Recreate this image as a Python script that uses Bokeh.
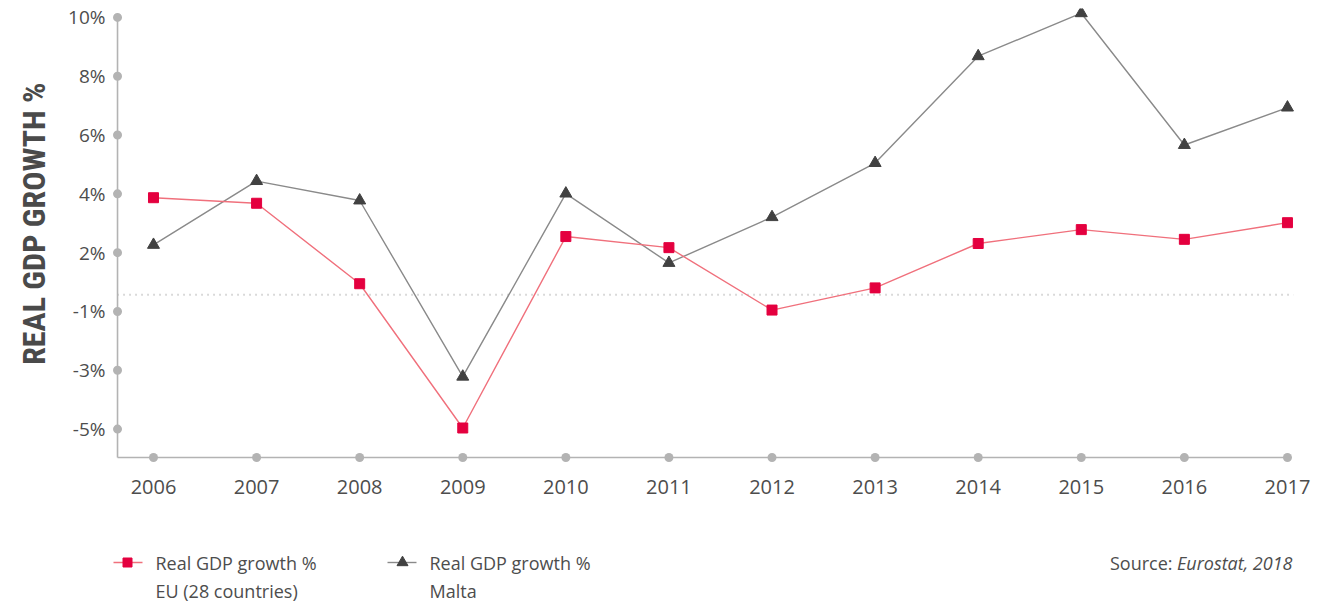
from bokeh.plotting import figure
from bokeh.models import Range1d, FixedTicker, Title
from bokeh.layouts import column
from bokeh.core.properties import value
from bokeh.embed import file_html
from bokeh.resources import INLINE

# ---- data ----
years = [2006, 2007, 2008, 2009, 2010, 2011, 2012, 2013, 2014, 2015, 2016, 2017]
eu_growth = [3.5, 3.3, 0.4, -4.8, 2.1, 1.7, -0.55, 0.25, 1.85, 2.35, 2.0, 2.6]
malta_growth = [1.8, 4.1, 3.4, -2.95, 3.65, 1.15, 2.8, 4.75, 8.6, 10.15, 5.4, 6.75]
y_ticks = [10.0, 7.88, 5.76, 3.64, 1.52, -0.6, -2.72, -4.84]
y_tick_labels = ["10%", "8%", "6%", "4%", "2%", "-1%", "-3%", "-5%"]
series_names = ["EU (28 countries)", "Malta"]
legend_title = "Real GDP growth %"
y_title = "REAL GDP GROWTH %"
source_label = "Source:"
source_text = "Eurostat, 2018"

FONT = "Open Sans"
TXT = "#4d4d4d"
AXIS_GREY = "#b3b3b3"
EU_LINE = "#f0707c"
EU_MARK = "#e4003f"
MT_LINE = "#8a8a8a"
MT_MARK = "#414141"

axis_x = 2005.651
axis_y = -5.862
x_start = 2005.5926
x_end = 2017.078

LEFT = 111
RIGHT = 25
FRAME_W = 1184
TOP = 8
FRAME_H = 455
BOTTOM = 42

p = figure(width=LEFT + FRAME_W + RIGHT, height=TOP + FRAME_H + BOTTOM, output_backend="svg",
           toolbar_location=None,
           x_range=Range1d(x_start, x_end), y_range=Range1d(-6.08, 10.32),
           min_border_left=LEFT, min_border_right=RIGHT, min_border_top=TOP, min_border_bottom=BOTTOM)
p.frame_width = FRAME_W
p.frame_height = FRAME_H
p.outline_line_color = None
p.grid.visible = False

p.yaxis.ticker = FixedTicker(ticks=y_ticks)
p.yaxis.major_label_overrides = {t: l for t, l in zip(y_ticks, y_tick_labels)}
p.yaxis.axis_line_color = None
p.yaxis.major_tick_line_color = None
p.yaxis.minor_tick_line_color = None
p.yaxis.major_label_standoff = 0
p.yaxis.major_label_text_font = FONT
p.yaxis.major_label_text_font_size = "19px"
p.yaxis.major_label_text_color = TXT

# vertical title on the left, outside the axis
ytitle = Title(text=y_title, align="right", offset=74, vertical_align="top", standoff=22,
               text_font="Roboto Condensed", text_font_style="bold",
               text_font_size="32px", text_color="#4a4a4a")
p.add_layout(ytitle, "left")

p.xaxis.ticker = FixedTicker(ticks=years)
p.xaxis.axis_line_color = None
p.xaxis.major_tick_line_color = None
p.xaxis.minor_tick_line_color = None
p.xaxis.major_label_standoff = 10
p.xaxis.major_label_text_font = FONT
p.xaxis.major_label_text_font_size = "20px"
p.xaxis.major_label_text_color = TXT

# axis lines and dots
p.segment(x0=[axis_x, axis_x], y0=[axis_y, axis_y], x1=[axis_x, years[-1]], y1=[y_ticks[0], axis_y],
          line_color=AXIS_GREY, line_width=1.6)
p.scatter(x=[axis_x] * len(y_ticks), y=y_ticks, size=9, marker="circle",
          fill_color=AXIS_GREY, line_color=None)
p.scatter(x=years, y=[axis_y] * len(years), size=9, marker="circle",
          fill_color=AXIS_GREY, line_color=None)

# zero line
p.line(x=[axis_x, 2017.06], y=[0, 0], line_color="#b5b5b5", line_width=2, line_dash="1 5")

# series
p.line(years, malta_growth, line_color=MT_LINE, line_width=1.4)
p.scatter(years, malta_growth, marker="triangle", size=12, fill_color=MT_MARK, line_color=MT_MARK)
p.line(years, eu_growth, line_color=EU_LINE, line_width=1.4)
p.scatter(years, eu_growth, marker="square", size=10, fill_color=EU_MARK, line_color=EU_MARK)

# ---- legend / source strip (same frame geometry, data units = page pixels) ----
Q_H = 603 - (TOP + FRAME_H + BOTTOM)
q = figure(width=LEFT + FRAME_W + RIGHT, height=Q_H, output_backend="svg",
           toolbar_location=None,
           x_range=Range1d(LEFT, LEFT + FRAME_W), y_range=Range1d(603, TOP + FRAME_H + BOTTOM),
           min_border_left=LEFT, min_border_right=RIGHT, min_border_top=0, min_border_bottom=0,
           outline_line_color=None)
q.frame_width = FRAME_W
q.frame_height = Q_H
q.axis.visible = False
q.grid.visible = False

row1 = 562
row2 = 590
q.line([113, 142], [row1, row1], line_color=EU_LINE, line_width=1.4)
q.scatter([127], [row1], marker="square", size=9, fill_color=EU_MARK, line_color=EU_MARK)
q.line([387, 416], [row1, row1], line_color=MT_LINE, line_width=1.4)
q.scatter([402], [row1], marker="triangle", size=11, fill_color=MT_MARK, line_color=MT_MARK)

q.text(x=[155, 429], y=[row1, row1], text=[legend_title, legend_title],
       text_font=value(FONT), text_font_size="18px", text_color=TXT, text_baseline="middle")
q.text(x=[155, 429], y=[row2, row2], text=series_names,
       text_font=value(FONT), text_font_size="18px", text_color=TXT, text_baseline="middle")
q.text(x=[1292], y=[row1], text=[source_text], text_font=value(FONT), text_font_size="18px",
       text_font_style="italic", text_color=TXT, text_baseline="middle", text_align="right")
q.text(x=[1172], y=[row1], text=[source_label], text_font=value(FONT), text_font_size="18px",
       text_color=TXT, text_baseline="middle", text_align="right")

layout = column(p, q, spacing=0)
open("out.html", "w").write(file_html(layout, INLINE))
